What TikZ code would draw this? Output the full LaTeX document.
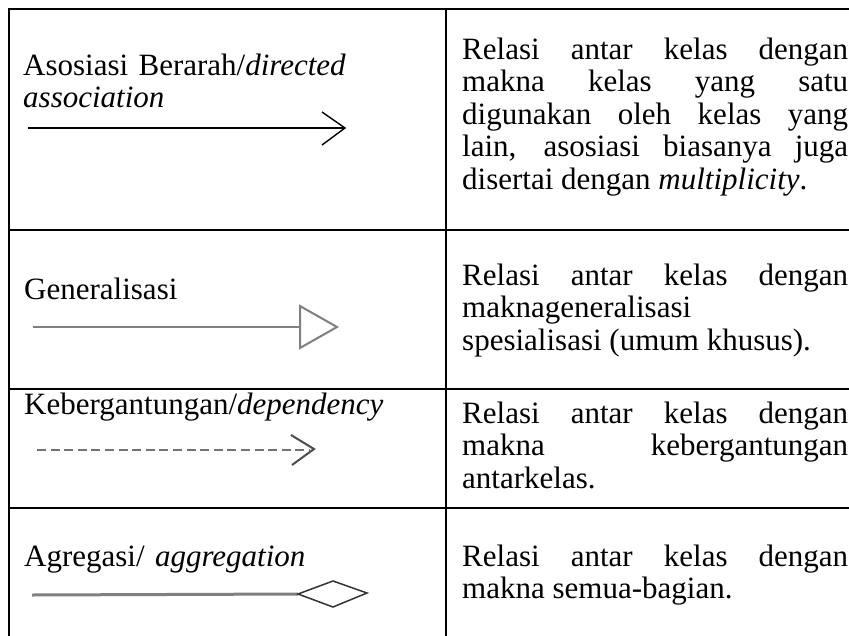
\documentclass[tikz,border=0pt]{standalone}
\usepackage{fontspec}
\setmainfont{Liberation Serif}
\usetikzlibrary{calc}
\begin{document}
\begin{tikzpicture}[x=1pt,y=-1pt,
  grid/.style={line width=2.2pt, black, line cap=rect},
  desc/.style={anchor=base west, inner sep=0pt, text width=386pt, align=justify,
    font=\fontsize{31}{32.5}\selectfont},
  lbl/.style={anchor=base west, inner sep=0pt, text width=410pt, align=left,
    font=\fontsize{31}{32.5}\selectfont},
  assoc/.style={line width=1.4pt, black},
  gen/.style={line width=2pt, black!50},
  depline/.style={line width=2pt, black!55, dash pattern=on 9pt off 4.6pt},
  dephead/.style={line width=2pt, black!70},
  aggline/.style={line width=3pt, black!50},
  agghead/.style={line width=1.5pt, black!80}]
\useasboundingbox (0,0) rectangle (849,635);
\fill[white] (0,0) rectangle (849,635);

% table rules
\draw[grid] (9,9) -- (849,9);
\draw[grid] (9,230) -- (849,230);
\draw[grid] (9,389) -- (849,389);
\draw[grid] (9,508) -- (849,508);
\draw[grid] (9,9) -- (9,635);
\draw[grid] (446,9) -- (446,635);

% left labels
\node[lbl] (l1) at (23,75) {Asosiasi Berarah/\textit{directed}\\\textit{association}};
\node[lbl] (l2) at (24,299) {Generalisasi};
\node[lbl] (l3) at (24,414) {Kebergantungan/\textit{dependency}};
\node[lbl] (l4) at (24,566) {Agregasi/ \textit{aggregation}};

% right descriptions
\node[desc] (d1) at (462,59) {Relasi antar kelas dengan\linebreak makna kelas yang satu\linebreak digunakan oleh kelas yang\linebreak lain, asosiasi biasanya juga\linebreak disertai dengan \textit{multiplicity}.};
\node[desc] (d2) at (462,285) {Relasi antar kelas dengan\linebreak maknageneralisasi\newline spesialisasi (umum khusus).};
\node[desc] (d3) at (462,423) {Relasi antar kelas dengan\linebreak makna kebergantungan\linebreak antarkelas.};
\node[desc] (d4) at (462,566) {Relasi antar kelas dengan\linebreak makna semua-bagian.};

% directed association
\coordinate (a1s) at (28,128);
\coordinate (a1e) at (345,128);
\draw[assoc] (a1s) -- (a1e);
\draw[assoc] ($(a1e)+(-23,-16)$) -- (a1e) -- ($(a1e)+(-23,17)$);

% generalisation
\coordinate (g1s) at (33,327);
\coordinate (g1e) at (300,327);
\draw[gen] (g1s) -- (g1e);
\draw[gen] (g1e) -- ++(0,-21) -- (337,327) -- (300,348) -- cycle;

% dependency
\coordinate (k1s) at (37,450);
\coordinate (k1e) at (314,449);
\draw[depline] (k1s) -- (310,450);
\draw[dephead] (291,435) -- (k1e) -- (292,465);

% aggregation
\coordinate (r1s) at (32,595);
\coordinate (r1e) at (298,594);
\draw[aggline] (r1s) -- (r1e);
\draw[agghead] (r1e) -- (333,581) -- (367,593) -- (333,607) -- cycle;
\end{tikzpicture}
\end{document}
